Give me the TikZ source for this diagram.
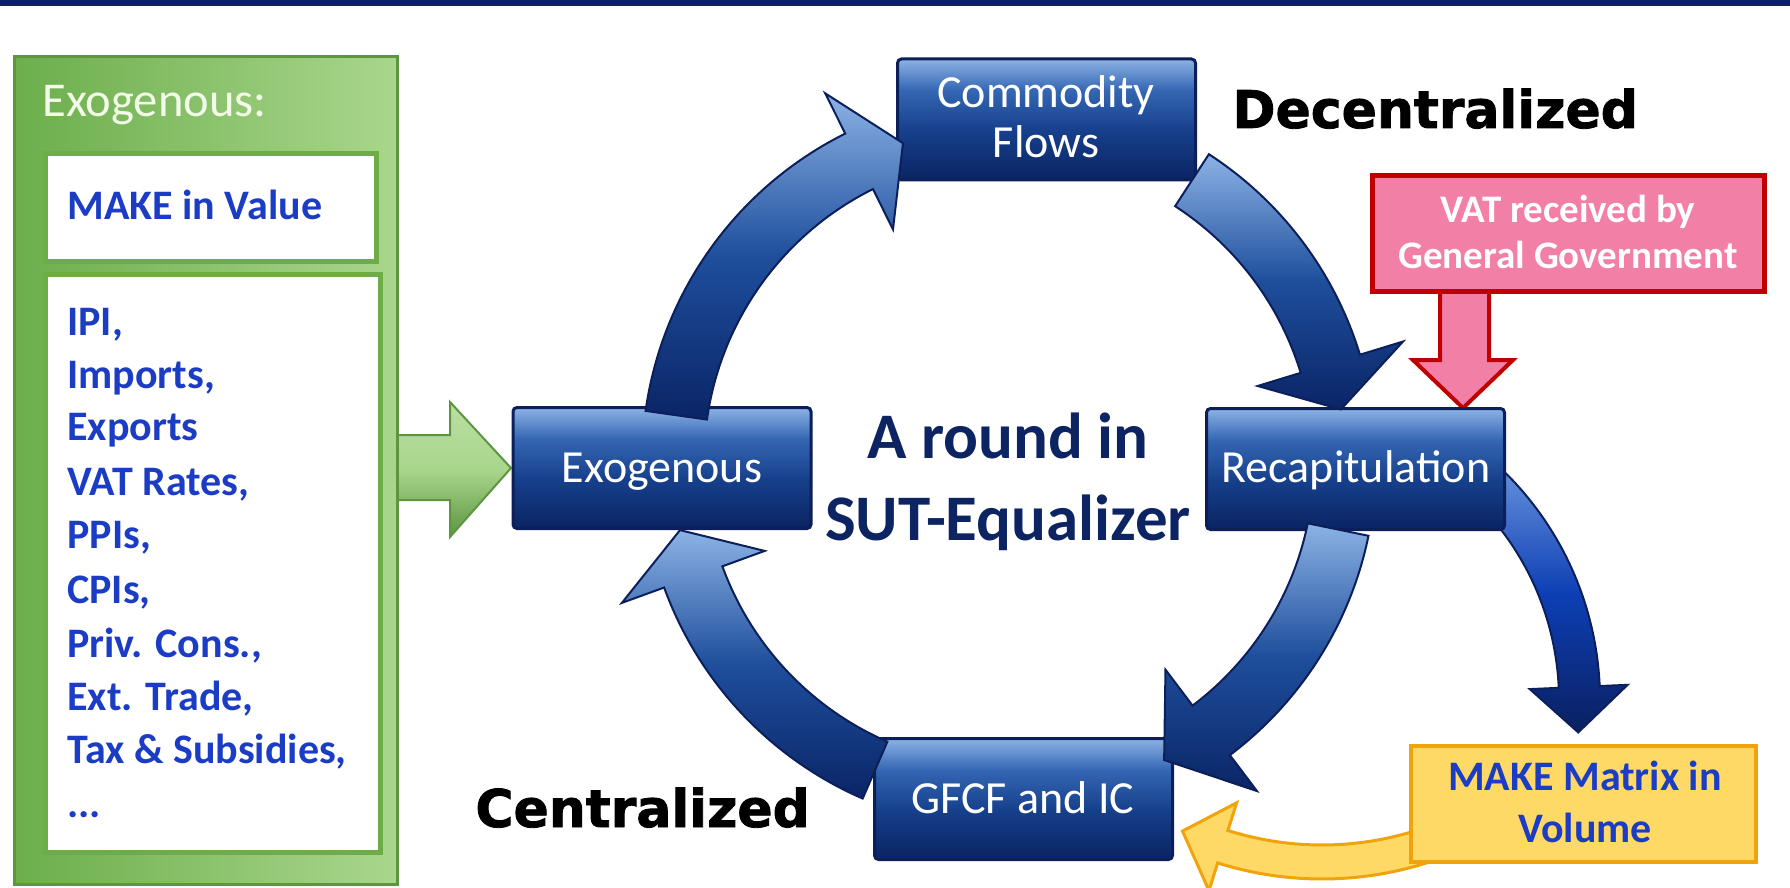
\documentclass[tikz,border=0pt]{standalone}
\usepackage{fontspec}
\setmainfont{Carlito}
\newfontfamily\heavy{DejaVu Sans}[BoldFeatures={FakeBold=1.6}]
\definecolor{navybar}{HTML}{0B2164}
\definecolor{boxTop}{HTML}{8DB3E6}
\definecolor{boxMidA}{HTML}{3466B3}
\definecolor{boxMidB}{HTML}{163F8A}
\definecolor{boxBot}{HTML}{0A2463}
\definecolor{boxLine}{HTML}{0C1F5A}
\definecolor{arrTop}{HTML}{8CB3E5}
\definecolor{arrMid}{HTML}{1E4E9C}
\definecolor{arrBot}{HTML}{0A2566}
\definecolor{sideTop}{HTML}{6F9ADF}
\definecolor{sideMid}{HTML}{0D3FB5}
\definecolor{sideBot}{HTML}{0A2060}
\definecolor{txtBlue}{HTML}{1B3CC4}
\definecolor{txtNavy}{HTML}{0C2461}
\definecolor{grL}{HTML}{6CAE4C}
\definecolor{grR}{HTML}{A9D68C}
\definecolor{grLine}{HTML}{5C9640}
\definecolor{grIn}{HTML}{6EAC47}
\definecolor{pinkF}{HTML}{F27FA6}
\definecolor{redL}{HTML}{C00000}
\definecolor{yelF}{HTML}{FFD966}
\definecolor{yelL}{HTML}{F0A30A}
\definecolor{cream}{HTML}{F3FAE9}
\pgfdeclareverticalshading{boxsh}{100bp}{color(0bp)=(boxBot); color(25bp)=(boxBot); color(45bp)=(boxMidB); color(62bp)=(boxMidA); color(75bp)=(boxTop); color(100bp)=(boxTop)}
\tikzset{
  bluebox/.style={rectangle, rounded corners=2pt, draw=boxLine, line width=1.5pt, shading=boxsh, minimum width=149pt, minimum height=60.5pt, inner sep=0pt},
  boxtxt/.style={anchor=base, inner sep=0pt, text=white, font=\fontsize{23pt}{28pt}\selectfont},
  listtxt/.style={anchor=base west, inner sep=0pt, text=txtBlue, font=\bfseries\fontsize{21pt}{25pt}\selectfont},
  cyclearrow/.style={draw=boxLine, line width=1pt, top color=arrTop, bottom color=arrBot, middle color=arrMid},
  innerbox/.style={rectangle, draw=grIn, line width=2.5pt, fill=white, inner sep=0pt},
  bigtxt/.style={anchor=base, inner sep=0pt, text=txtNavy, font=\bfseries\fontsize{32.5pt}{38pt}\selectfont},
  heavytxt/.style={anchor=base west, inner sep=0pt, text=black, font=\heavy\bfseries\fontsize{26pt}{30pt}\selectfont}
}
\begin{document}
\begin{tikzpicture}[x=0.5pt,y=-0.5pt]
\useasboundingbox (0,0) rectangle (1790,888);
\fill[white] (0,0) rectangle (1790,888);
\fill[navybar] (0,0) rectangle (1790,6);

% green arrow into Exogenous
\path[draw=grLine, line width=1pt, top color=grR!80!white, bottom color=grL!85!black, middle color=grR]
  (390,435) -- (450,435) -- (450,402) -- (511,468) -- (450,537) -- (450,500) -- (390,500) -- cycle;

% green container
\node[rectangle, draw=grLine, line width=1.5pt, left color=grL, right color=grR, minimum width=191.5pt, minimum height=413.5pt, inner sep=0pt] (grn) at (205.5,470.5) {};
\node[innerbox, minimum width=165.5pt, minimum height=53.5pt] (mkbox) at (210.5,207.5) {};
\node[innerbox, minimum width=167.5pt, minimum height=289pt] (listbox) at (212.5,563) {};
\node[anchor=base west, inner sep=0pt, text=cream, font=\fontsize{24.3pt}{29pt}\selectfont] (exlab) at (42,117) {Exogenous:};
\node[listtxt] (mkv) at (67,220) {MAKE in Value};
\node[listtxt] (l1) at (67,335) {IPI,};
\node[listtxt] (l2) at (67,388) {Imports,};
\node[listtxt] (l3) at (67,440) {Exports};
\node[listtxt] (l4) at (67,495) {VAT Rates,};
\node[listtxt] (l5) at (67,548) {PPIs,};
\node[listtxt] (l6) at (67,603) {CPIs,};
\node[listtxt] (l7) at (67,657) {Priv. Cons.,};
\node[listtxt] (l8) at (67,710) {Ext. Trade,};
\node[listtxt] (l9) at (67,763) {Tax \& Subsidies,};
\node[listtxt] (l10) at (67,817) {...};

% Recapitulation -> MAKE Matrix arrow (behind box)
\begin{scope}[shift={(1280,700)}]
\path[draw=boxLine, line width=1pt, top color=sideTop, bottom color=sideBot, middle color=sideMid]
  (310:320) arc[start angle=310, end angle=357.5, radius=320] -- (357.5:348) -- (366.2:300) -- (357.5:250) -- (357.5:279) arc[start angle=357.5, end angle=310, radius=279] -- cycle;
\end{scope}

% yellow arrow (behind yellow box)
\begin{scope}[shift={(1322,532)}]
\path[draw=yelL, line width=1.5pt, fill=yelF]
  (68:347) arc[start angle=68, end angle=107.5, radius=347] -- (107.5:376) -- (115:330) -- (107.5:284) -- (107.5:313) arc[start angle=107.5, end angle=68, radius=313] -- cycle;
\end{scope}

% pink arrow
\path[draw=redL, line width=2pt, fill=pinkF]
  (1440,285) -- (1440,360) -- (1413,360) -- (1463,408) -- (1513,360) -- (1489,360) -- (1489,285) -- cycle;

% boxes
\node[bluebox] (exo) at (662,468) {};
\node[bluebox] (com) at (1046.5,119.5) {};
\node[bluebox] (rec) at (1355.5,469) {};
\node[bluebox] (gfcf) at (1023.5,799) {};
\node[rectangle, draw=redL, line width=2.5pt, fill=pinkF, minimum width=196pt, minimum height=57.5pt, inner sep=0pt] (vat) at (1568,233.5) {};
\node[rectangle, draw=yelL, line width=2pt, fill=yelF, minimum width=172.5pt, minimum height=58pt, inner sep=0pt] (mkm) at (1583.5,804) {};

% cycle arrows
\begin{scope}[shift={(1009,462)}]
\path[cyclearrow] (188:367) arc[start angle=188, end angle=243.5, radius=367] -- (243.5:412) -- (251.6:336) -- (243.5:260) -- (243.5:305) arc[start angle=243.5, end angle=188, radius=305] -- cycle;
\path[cyclearrow] (303:367) arc[start angle=303, end angle=343, radius=367] -- (343:412) -- (351:336) -- (343:260) -- (343:305) arc[start angle=343, end angle=303, radius=305] -- cycle;
\path[cyclearrow] (11.6:367) arc[start angle=11.6, end angle=53, radius=367] -- (53:412) -- (62.5:336) -- (53:260) -- (53:305) arc[start angle=53, end angle=11.6, radius=305] -- cycle;
\path[cyclearrow] (113.5:367) arc[start angle=113.5, end angle=160, radius=367] -- (160:412) -- (168.3:336) -- (160:260) -- (160:305) arc[start angle=160, end angle=113.5, radius=305] -- cycle;
\end{scope}

% box texts
\node[boxtxt] (exoT) at (662,482) {Exogenous};
\node[boxtxt] (comT1) at (1046,108) {Commodity};
\node[boxtxt] (comT2) at (1046,158) {Flows};
\node[boxtxt] (recT) at (1356,482) {Recapitulation};
\node[boxtxt] (gfcfT) at (1023,813) {GFCF and IC};
\node[anchor=base, inner sep=0pt, text=white, font=\bfseries\fontsize{19.5pt}{24pt}\selectfont] (vatT1) at (1568,222) {VAT received by};
\node[anchor=base, inner sep=0pt, text=white, font=\bfseries\fontsize{19.5pt}{24pt}\selectfont] (vatT2) at (1568,268) {General Government};
\node[anchor=base, inner sep=0pt, text=txtBlue, font=\bfseries\fontsize{21pt}{25pt}\selectfont] (mkmT1) at (1585,790) {MAKE Matrix in};
\node[anchor=base, inner sep=0pt, text=txtBlue, font=\bfseries\fontsize{21pt}{25pt}\selectfont] (mkmT2) at (1585,842) {Volume};

\node[bigtxt] (round1) at (1008,458) {A round in};
\node[bigtxt] (round2) at (1008,540) {SUT-Equalizer};
\node[heavytxt] (dec) at (1232,128) {Decentralized};
\node[heavytxt] (cen) at (475,827) {Centralized};
\end{tikzpicture}
\end{document}
